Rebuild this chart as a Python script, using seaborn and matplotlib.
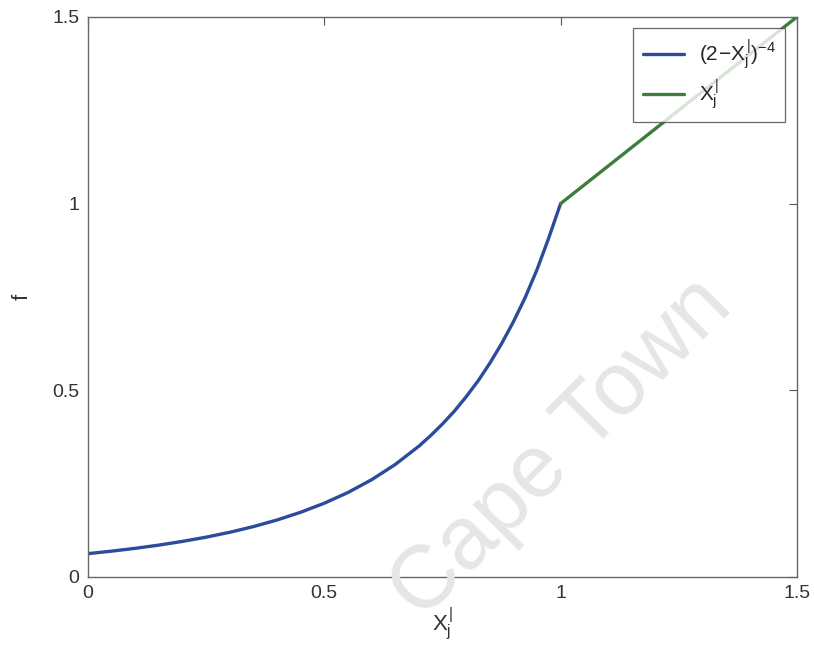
import matplotlib
matplotlib.use("Agg")
import matplotlib.pyplot as plt
import seaborn as sns
import pandas as pd

# Curve f = (2 - X)^-4 on [0, 1]
x_curve = [0.0, 0.05, 0.1, 0.15, 0.2, 0.25, 0.3, 0.35, 0.4, 0.45, 0.5,
           0.55, 0.6, 0.65, 0.7, 0.725, 0.75, 0.775, 0.8, 0.825, 0.85,
           0.875, 0.9, 0.925, 0.95, 0.975, 1.0]
f_curve = [0.0625, 0.0692, 0.0767, 0.0854, 0.0953, 0.1066, 0.1197, 0.1349,
           0.1526, 0.1733, 0.1975, 0.2262, 0.2603, 0.3011, 0.3501, 0.3785,
           0.4096, 0.4437, 0.4823, 0.5244, 0.5718, 0.6245, 0.6830, 0.7482,
           0.8227, 0.9081, 1.0]
# Line f = X on [1, 1.5]
x_line = [1.0, 1.5]
f_line = [1.0, 1.5]

tick_vals = [0, 0.5, 1, 1.5]
tick_labels = ["0", "0.5", "1", "1.5"]

sns.set_style("white")
plt.rcParams["font.family"] = ["Liberation Sans", "DejaVu Sans"]
plt.rcParams["mathtext.fontset"] = "custom"
plt.rcParams["mathtext.rm"] = "Liberation Sans"
plt.rcParams["mathtext.it"] = "Liberation Sans"

fig = plt.figure(figsize=(8.14, 6.51), dpi=100)
ax = fig.add_axes([0.108, 0.1137, 0.871, 0.8603])

df1 = pd.DataFrame({"x": x_curve, "f": f_curve})
df2 = pd.DataFrame({"x": x_line, "f": f_line})
sns.lineplot(data=df1, x="x", y="f", ax=ax, color="#2b4c9b", lw=2.4,
             label=r"$(2\!-\!X_j^{|})^{-4}$", sort=False)
sns.lineplot(data=df2, x="x", y="f", ax=ax, color="#3d7d3a", lw=2.4,
             label=r"$X_j^{|}$", sort=False)

ax.set_xlim(0, 1.5)
ax.set_ylim(0, 1.5)
ax.set_xticks(tick_vals)
ax.set_xticklabels(tick_labels)
ax.set_yticks(tick_vals)
ax.set_yticklabels(tick_labels)
ax.tick_params(direction="in", length=6, width=0.8, color="#555555",
               labelsize=14, labelcolor="#333333", pad=6,
               top=True, right=True)
for s in ax.spines.values():
    s.set_color("#666666")
    s.set_linewidth(1.0)

ax.set_xlabel(r"$X_j^{|}$", fontsize=16, color="#333333", labelpad=2)
ax.set_ylabel("f", fontsize=16, color="#333333", labelpad=14)

leg = ax.legend(loc="upper right", bbox_to_anchor=(0.998, 0.998), fontsize=15,
                frameon=True, fancybox=False, edgecolor="#444444",
                handlelength=2.0, borderpad=0.45, labelspacing=0.25,
                handletextpad=0.7)
leg.get_frame().set_linewidth(0.9)

# Faint diagonal watermark
fig.text(0.69, 0.31, "Cape Town", fontsize=64, color="#e6e6e6",
         rotation=45, ha="center", va="center", zorder=0)

fig.savefig("out.png", dpi=100)
